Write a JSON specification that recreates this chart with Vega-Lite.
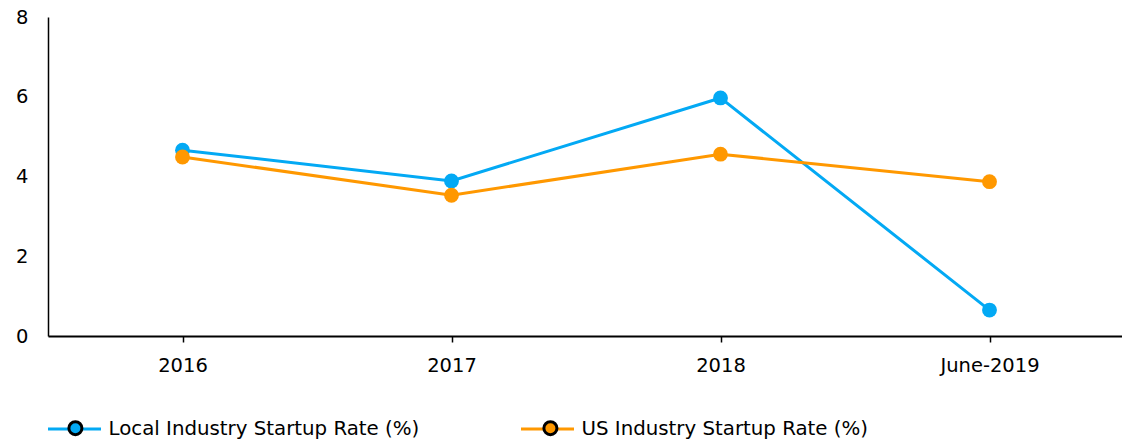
{
  "$schema": "https://vega.github.io/schema/vega-lite/v6.json",
  "width": 1076,
  "height": 319,
  "autosize": {"type": "none"},
  "padding": {"left": 48, "top": 17, "right": 0, "bottom": 106},
  "config": {"view": {"stroke": null}, "font": "DejaVu Sans"},
  "data": {
    "values": [
      {"period": "2016", "series": "Local Industry Startup Rate (%)", "name": "Local Industry Startup Rate (%)", "value": 4.66},
      {"period": "2017", "series": "Local Industry Startup Rate (%)", "name": "Local Industry Startup Rate (%)", "value": 3.89},
      {"period": "2018", "series": "Local Industry Startup Rate (%)", "name": "Local Industry Startup Rate (%)", "value": 5.97},
      {"period": "June-2019", "series": "Local Industry Startup Rate (%)", "name": "Local Industry Startup Rate (%)", "value": 0.65},
      {"period": "2016", "series": "US Industry Startup Rate (%)", "name": "US Industry Startup Rate (%)", "value": 4.49},
      {"period": "2017", "series": "US Industry Startup Rate (%)", "name": "US Industry Startup Rate (%)", "value": 3.53},
      {"period": "2018", "series": "US Industry Startup Rate (%)", "name": "US Industry Startup Rate (%)", "value": 4.56},
      {"period": "June-2019", "series": "US Industry Startup Rate (%)", "name": "US Industry Startup Rate (%)", "value": 3.87}
    ]
  },
  "layer": [
    {
      "mark": {"type": "line", "strokeWidth": 3},
      "encoding": {
        "x": {
          "field": "period", "type": "ordinal", "sort": null,
          "scale": {"type": "point", "padding": 0.5},
          "axis": {"title": null, "labelAngle": 0, "labelFontSize": 19.5, "labelColor": "black", "labelPadding": 14, "tickSize": 6, "tickColor": "black", "tickWidth": 1.5, "domainColor": "black", "domainWidth": 2, "grid": false}
        },
        "y": {
          "field": "value", "type": "quantitative",
          "scale": {"domain": [0, 8], "nice": false},
          "axis": {"title": null, "values": [0, 2, 4, 6, 8], "ticks": false, "labelPadding": 20, "labelFlush": false, "domainColor": "black", "domainWidth": 1.5, "grid": false, "labelFontSize": 19.5, "labelColor": "black"}
        },
        "stroke": {
          "field": "series", "type": "nominal", "sort": null,
          "scale": {"domain": ["Local Industry Startup Rate (%)", "US Industry Startup Rate (%)"], "range": ["#03A9F4", "#FF9800"]},
          "legend": {"orient": "none", "legendX": -1.5, "legendY": 384, "direction": "horizontal", "title": null, "symbolType": "stroke", "symbolSize": 2809, "symbolStrokeWidth": 3, "labelFontSize": 19.8, "labelColor": "black", "labelOffset": 6, "columnPadding": 95, "padding": 0, "labelLimit": 400}
        }
      }
    },
    {
      "mark": {"type": "point", "filled": true, "size": 220, "opacity": 1},
      "encoding": {
        "x": {"field": "period", "type": "ordinal", "sort": null},
        "y": {"field": "value", "type": "quantitative"},
        "fill": {
          "field": "name", "type": "nominal", "sort": null,
          "scale": {"range": ["#03A9F4", "#FF9800"]},
          "legend": {"orient": "none", "legendX": 17.5, "legendY": 401, "direction": "horizontal", "title": null, "symbolType": "circle", "symbolSize": 170, "symbolStrokeColor": "black", "symbolStrokeWidth": 3, "labelFontSize": 19.8, "labelExpr": "''", "labelOffset": 0, "columnPadding": 449, "padding": 0, "labelLimit": 400,
            "encode": {"symbols": {"update": {"stroke": {"value": "black"}, "strokeWidth": {"value": 3}, "opacity": {"value": 1}}}}}
        }
      }
    }
  ]
}
